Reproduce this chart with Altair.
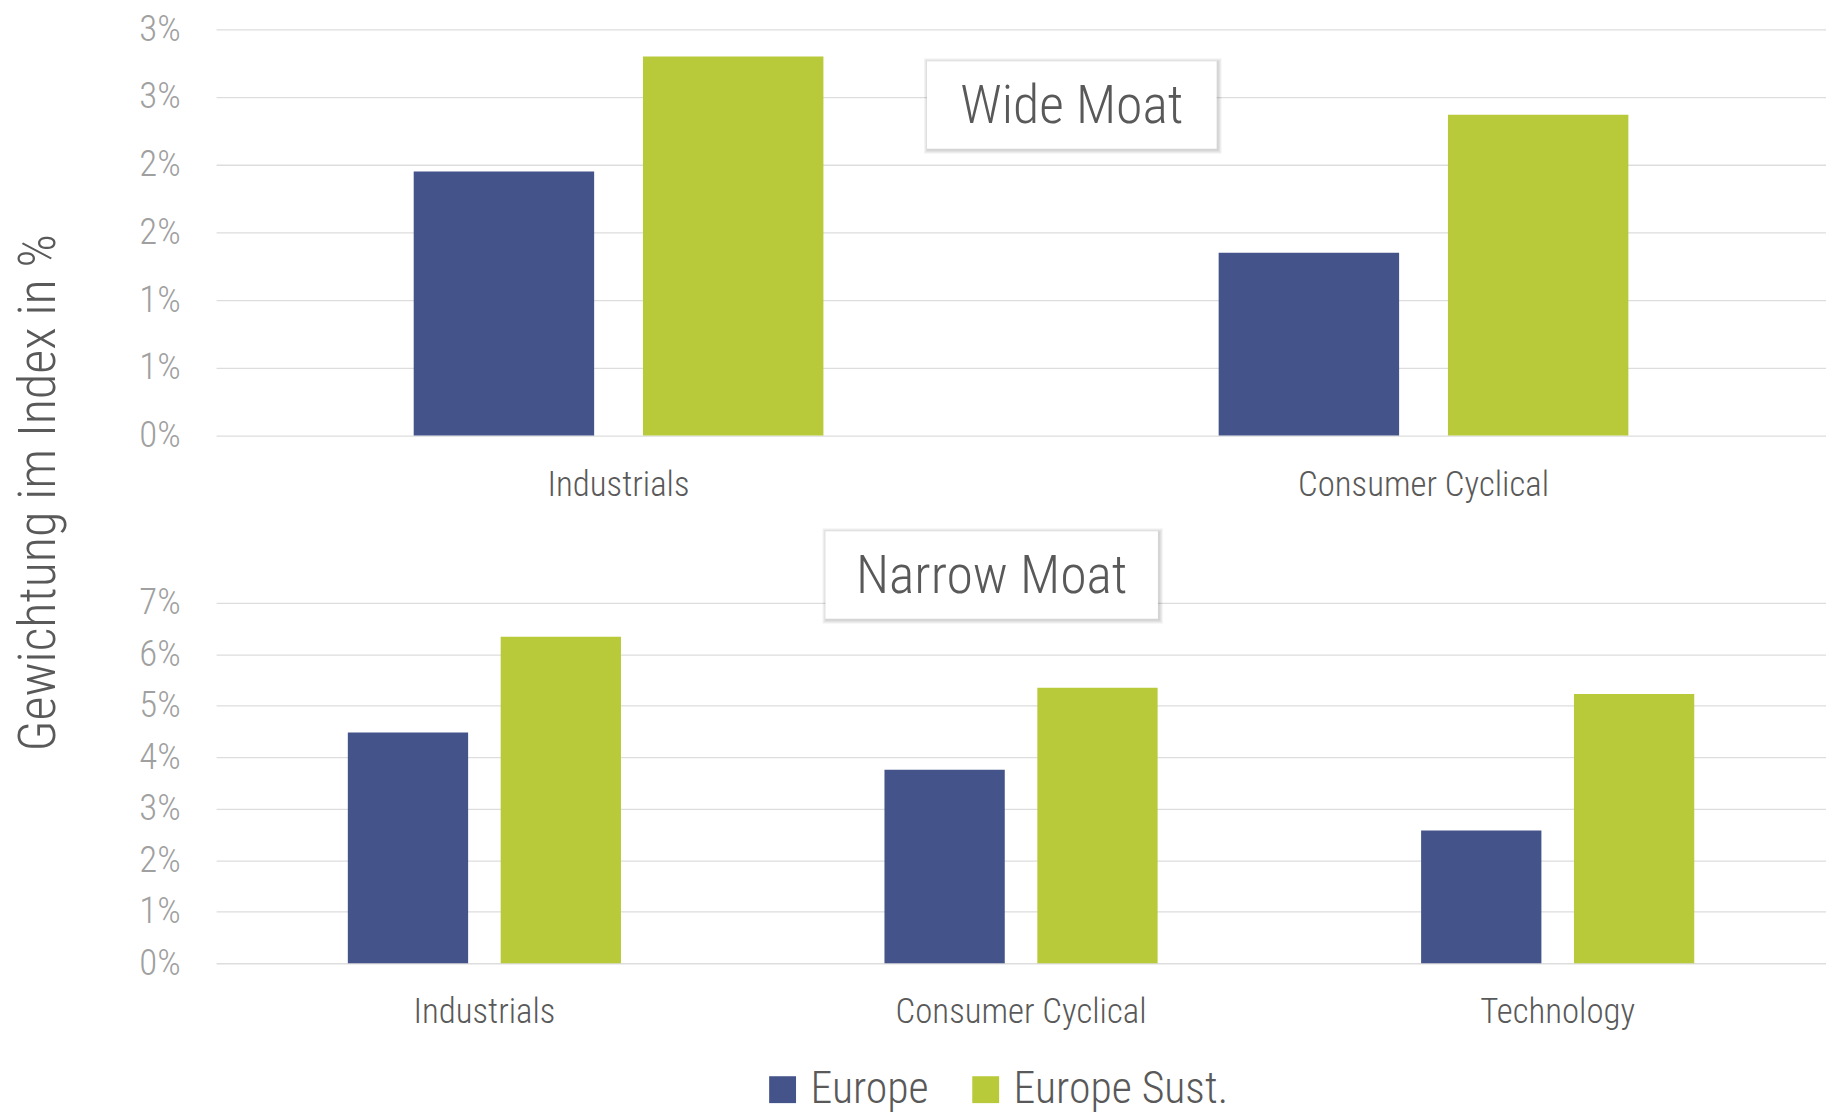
import altair as alt
import pandas as pd

FONT = "Roboto Condensed, Liberation Sans Narrow, DejaVu Sans Condensed, sans-serif"
W = 300

series = ["Europe", "Europe Sust."]
colors = ["#44538A", "#B8CA3A"]

wide_categories = ["Industrials", "Consumer Cyclical"]
wide_europe = [1.95, 1.35]
wide_sust = [2.80, 2.37]
wide_ticks = [0, 0.5, 1, 1.5, 2, 2.5, 3]

narrow_categories = ["Industrials", "Consumer Cyclical", "Technology"]
narrow_europe = [4.48, 3.76, 2.58]
narrow_sust = [6.34, 5.35, 5.23]
narrow_ticks = [0, 1, 2, 3, 4, 5, 6, 7]

y_title = "Gewichtung im Index in %"


def frame(cats, a, b):
    rows = []
    for c, v1, v2 in zip(cats, a, b):
        rows.append({"category": c, "series": series[0], "value": v1})
        rows.append({"category": c, "series": series[1], "value": v2})
    return pd.DataFrame(rows)


def box(label, x0, x1, y0, y1):
    d = pd.DataFrame({"label": [label]})
    layers = []
    for i in range(1, 5):
        layers.append(
            alt.Chart(d).mark_rect(color="black", opacity=0.045).encode(
                x=alt.value(x0 - i + 1), x2=alt.value(x1 + i + 1),
                y=alt.value(y0 - i + 1), y2=alt.value(y1 + i + 1)))
    layers.append(
        alt.Chart(d).mark_rect(color="white").encode(
            x=alt.value(x0), x2=alt.value(x1), y=alt.value(y0), y2=alt.value(y1)))
    layers.append(
        alt.Chart(d).mark_text(font=FONT, fontSize=54, fontWeight=W, color="#595959",
                               align="center", baseline="middle").encode(
            x=alt.value((x0 + x1) / 2), y=alt.value((y0 + y1) / 2 + 2),
            text="label:N"))
    return layers


def bars(df, cats, ticks, dom, show_title, show_legend):
    kw = dict(values=ticks, labelExpr="format(datum.value, '.0f') + '%'",
              grid=True, domain=False, ticks=False, labelPadding=36)
    if show_title:
        yaxis = alt.Axis(**kw, title=y_title, titleAngle=270, titleX=-178, titleY=465,
                         titleAlign="center", titleBaseline="middle",
                         titleFontSize=52.5, titleColor="#595959", titleFont=FONT,
                         titleFontWeight=W)
    else:
        yaxis = alt.Axis(**kw, title=None)
    leg = None
    if show_legend:
        leg = alt.Legend(orient="none", direction="horizontal", legendX=547, legendY=1043,
                         title=None, symbolType="square", symbolSize=729,
                         symbolStrokeWidth=0, labelFontSize=44, labelFont=FONT,
                         labelFontWeight=W, labelLimit=0,
                         labelColor="#595959", columnPadding=35, labelOffset=6,
                         symbolOpacity=1)
    return alt.Chart(df).mark_bar().encode(
        x=alt.X("category:N", sort=cats, title=None,
                scale=alt.Scale(paddingInner=0.491, paddingOuter=0.2455),
                axis=alt.Axis(labelAngle=0, domain=False, ticks=False, labelPadding=32,
                              labelFontSize=35, labelColor="#595959", labelLimit=0)),
        xOffset=alt.XOffset("series:N", sort=series,
                            scale=alt.Scale(paddingInner=0.213, paddingOuter=0)),
        y=alt.Y("value:Q", scale=alt.Scale(domain=dom, nice=False), axis=yaxis),
        color=alt.Color("series:N", sort=series,
                        scale=alt.Scale(domain=series, range=colors), legend=leg),
    )


top = alt.layer(
    bars(frame(wide_categories, wide_europe, wide_sust), wide_categories, wide_ticks,
         [0, 3], True, True),
    *box("Wide Moat", 714, 1005, 32, 120),
).properties(width=1617, height=408)

bottom = alt.layer(
    bars(frame(narrow_categories, narrow_europe, narrow_sust), narrow_categories,
         narrow_ticks, [0, 7], False, False),
    *box("Narrow Moat", 612, 946, -72, 16),
).properties(width=1617, height=362)

chart = alt.vconcat(top, bottom, spacing=168, bounds="flush").resolve_scale(
    x="independent", y="independent", xOffset="independent"
).properties(padding={"top": 0, "left": 5, "right": 0, "bottom": 0}).configure_view(
    stroke=None
).configure_axis(
    labelFont=FONT, labelFontSize=37, labelFontWeight=W, labelColor="#A0A0A0",
    gridColor="#DDDDDD", gridWidth=1.3, titleFont=FONT
).configure_text(font=FONT)

chart.save("out.html", embed_options={"renderer": "svg", "actions": False})
